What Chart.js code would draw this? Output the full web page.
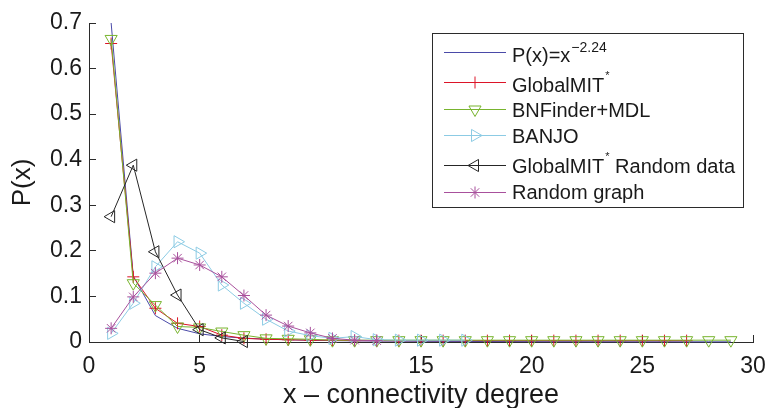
<!DOCTYPE html>
<html>
<head>
<meta charset="utf-8">
<script src="https://cdn.jsdelivr.net/npm/chart.js@4/dist/chart.umd.min.js"></script>
<style>
  html, body { margin: 0; padding: 0; background: #fff; }
  #wrap { width: 765px; height: 408px; }
</style>
</head>
<body>
<div id="wrap"><canvas id="chart" width="765" height="408"></canvas></div>
<script>
// ---- data ----
const degrees = [1, 2, 3, 4, 5, 6, 7, 8, 9, 10, 11, 12, 13, 14, 15, 16, 17, 18, 19, 20, 21, 22, 23, 24, 25, 26, 27, 28, 29];

const powerLaw = [0.700, 0.145, 0.058, 0.030, 0.018, 0.012, 0.0085, 0.0063, 0.0048, 0.0038, 0.0030, 0.0025, 0.0021,
  0.0018, 0.0015, 0.0013, 0.0012, 0.0010, 0.0009, 0.0008, 0.0007, 0.0007, 0.0006, 0.0006, 0.0005, 0.0005, 0.0004, 0.0004, 0.0004];
const globalMIT = [0.655, 0.143, 0.074, 0.041, 0.034, 0.015, 0.008, 0.006, 0.005, 0.004, 0.004, 0.003, 0.003,
  0.003, 0.003, 0.003, 0.003, 0.003, 0.003, 0.003, 0.003, 0.003, 0.003, 0.003, 0.003, 0.003, 0.003];
const bnFinder = [0.665, 0.129, 0.081, 0.034, 0.032, 0.023, 0.015, 0.008, 0.007, 0.006, 0.004, 0.004, 0.004,
  0.004, 0.004, 0.004, 0.004, 0.004, 0.004, 0.004, 0.004, 0.004, 0.004, 0.004, 0.004, 0.004, 0.004, 0.004, 0.004];
const banjo = [0.019, 0.085, 0.165, 0.220, 0.195, 0.125, 0.085, 0.050, 0.024, 0.014, 0.008, 0.012, 0.005,
  0.004, 0.004, 0.004, 0.004];
const randomData = [0.275, 0.388, 0.198, 0.103, 0.027, 0.009, 0.001];
const randomGraph = [0.030, 0.099, 0.151, 0.184, 0.169, 0.143, 0.102, 0.059, 0.035, 0.020, 0.008, 0.004, 0.003];

const xTicks = [0, 5, 10, 15, 20, 25, 30];
const yTicks = [0, 0.1, 0.2, 0.3, 0.4, 0.5, 0.6, 0.7];

// ---- look ----
const FONT = '"Liberation Sans", Arial, Helvetica, sans-serif';
const AXIS = '#2b2b2b';

const toPoints = vals => vals.map((v, i) => ({ x: degrees[i], y: v }));

function series(label, vals, color, style, rotation, radius) {
  return {
    label: label,
    data: toPoints(vals),
    showLine: true,
    borderColor: color,
    borderWidth: 1,
    backgroundColor: 'rgba(0,0,0,0)',
    pointStyle: style,
    pointRotation: rotation,
    pointRadius: radius,
    pointBorderColor: color,
    pointBackgroundColor: 'rgba(0,0,0,0)',
    pointBorderWidth: 1,
    tension: 0,
    clip: false
  };
}

const datasets = [
  series('powerLaw', powerLaw, '#4a4aa8', 'circle', 0, 0),
  series('GlobalMIT', globalMIT, '#dc1428', 'cross', 0, 6),
  series('BNFinder+MDL', bnFinder, '#78b42e', 'triangle', 180, 7),
  series('BANJO', banjo, '#8ccbe4', 'triangle', 90, 7),
  series('GlobalMIT Random data', randomData, '#262626', 'triangle', 270, 7),
  series('Random graph', randomGraph, '#a8509c', 'star', 0, 6)
];
// later series painted on top, as in the original
datasets.forEach((d, i) => { d.order = datasets.length - i; });

// legend rows: main text, superscript, tail text
const legendRows = [
  ['P(x)=x', '\u22122.24', ''],
  ['GlobalMIT', '*', ''],
  ['BNFinder+MDL', '', ''],
  ['BANJO', '', ''],
  ['GlobalMIT', '*', ' Random data'],
  ['Random graph', '', '']
];
const legendLineY = [52, 82, 109, 135, 165, 192];
const legendBaseY = [62, 92, 117, 143, 173, 199];

const boxLegend = {
  id: 'boxLegend',
  afterDraw(chart) {
    const ctx = chart.ctx;
    ctx.save();
    ctx.fillStyle = '#fff';
    ctx.fillRect(432, 33, 311, 174);
    ctx.strokeStyle = AXIS;
    ctx.lineWidth = 1;
    ctx.strokeRect(432.5, 33.5, 311, 174);

    legendRows.forEach((row, i) => {
      const ds = chart.data.datasets[i];
      const y = legendLineY[i] + 0.5;
      ctx.strokeStyle = ds.borderColor;
      ctx.lineWidth = 1;
      ctx.beginPath();
      ctx.moveTo(444, y);
      ctx.lineTo(506, y);
      ctx.stroke();
      if (ds.pointRadius > 0) {
        ctx.strokeStyle = ds.pointBorderColor;
        ctx.fillStyle = 'rgba(0,0,0,0)';
        Chart.helpers.drawPoint(ctx, {
          pointStyle: ds.pointStyle, rotation: ds.pointRotation,
          radius: ds.pointRadius, borderWidth: 1
        }, 475, y);
      }

      ctx.fillStyle = '#1a1a1a';
      ctx.textBaseline = 'alphabetic';
      ctx.textAlign = 'left';
      let x = 512;
      ctx.font = '20px ' + FONT;
      ctx.fillText(row[0], x, legendBaseY[i]);
      x += ctx.measureText(row[0]).width;
      if (row[1]) {
        const sup = row[1] === '*';
        ctx.font = (sup ? '11px ' : '14px ') + FONT;
        ctx.fillText(row[1], x + 1, legendBaseY[i] - (sup ? 13 : 10));
        x += ctx.measureText(row[1]).width + 1;
      }
      if (row[2]) {
        ctx.font = '20px ' + FONT;
        ctx.fillText(row[2], x, legendBaseY[i]);
      }
    });
    ctx.restore();
  }
};

new Chart(document.getElementById('chart'), {
  type: 'scatter',
  data: { datasets: datasets },
  options: {
    responsive: false,
    animation: false,
    devicePixelRatio: 1,
    layout: { padding: 0 },
    plugins: { legend: { display: false }, tooltip: { enabled: false } },
    scales: {
      x: {
        type: 'linear',
        min: 0,
        max: 30,
        afterBuildTicks: s => { s.ticks = xTicks.map(v => ({ value: v })); },
        afterFit: s => { s.height = 66; s.paddingLeft = 0; s.paddingRight = 12; },
        grid: { drawOnChartArea: false, drawTicks: true, tickLength: -7, color: AXIS },
        border: { display: true, color: AXIS, width: 1 },
        ticks: { color: '#1a1a1a', font: { family: FONT, size: 23 }, padding: 18, maxRotation: 0 },
        title: {
          display: true, text: 'x \u2013 connectivity degree', color: '#1a1a1a',
          font: { family: FONT, size: 27, lineHeight: 1 }, padding: { top: 0, bottom: -1 }
        }
      },
      y: {
        type: 'linear',
        min: 0,
        max: 0.7,
        afterBuildTicks: s => { s.ticks = yTicks.map(v => ({ value: v })); },
        afterFit: s => { s.width = 89; s.paddingTop = 23; s.paddingBottom = 0; },
        grid: { drawOnChartArea: false, drawTicks: true, tickLength: -7, color: AXIS },
        border: { display: true, color: AXIS, width: 1 },
        ticks: {
          color: '#1a1a1a', font: { family: FONT, size: 23 }, padding: 14,
          callback: v => (v === 0 ? '0' : v.toFixed(1))
        },
        title: {
          display: true, text: 'P(x)', color: '#1a1a1a',
          font: { family: FONT, size: 26, lineHeight: 1 }, padding: { top: 10, bottom: 0 }
        }
      }
    }
  },
  plugins: [boxLegend]
});
</script>
</body>
</html>
